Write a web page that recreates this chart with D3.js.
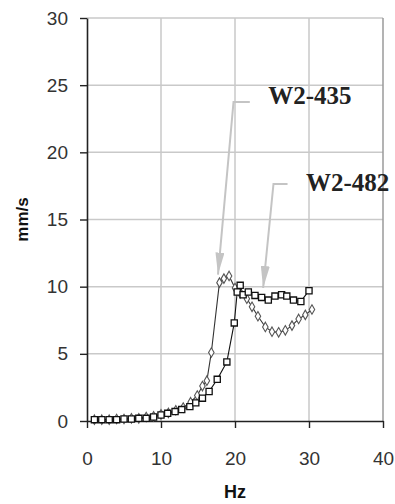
<!DOCTYPE html>
<html>
<head>
<meta charset="utf-8">
<script src="https://cdn.jsdelivr.net/npm/d3@7"></script>
<style>
  html, body { margin: 0; padding: 0; background: #fff; }
  svg { display: block; }
</style>
</head>
<body>
<div id="chart"></div>
<script>
// Vibration velocity spectra of two measurement points (mm/s vs Hz)
const xTicks = [0, 10, 20, 30, 40];
const yTicks = [0, 5, 10, 15, 20, 25, 30];

// W2-435 (diamond markers)
const hz435 = [1, 2, 3, 4, 5, 6, 7, 8, 9, 10, 11, 12, 13, 14, 14.9, 15.6, 16.2, 16.8, 17.9, 18.5, 19.2, 20.0, 20.7, 21.6, 22.3, 23.1, 24.1, 25.0, 25.9, 26.8, 27.7, 28.6, 29.5, 30.4];
const v435  = [0.1, 0.1, 0.1, 0.15, 0.15, 0.2, 0.2, 0.3, 0.35, 0.5, 0.6, 0.8, 1.0, 1.4, 1.9, 2.6, 3.0, 5.1, 10.3, 10.6, 10.8, 9.9, 9.5, 9.1, 8.5, 7.8, 7.0, 6.65, 6.6, 6.75, 7.1, 7.6, 7.9, 8.3];

// W2-482 (square markers)
const hz482 = [1, 2, 3, 4, 5, 6, 7, 8, 9, 10, 10.9, 11.9, 12.8, 13.9, 14.7, 15.6, 16.5, 17.6, 18.9, 19.9, 20.3, 20.7, 21.1, 21.8, 22.7, 23.6, 24.5, 25.4, 26.3, 27.0, 27.9, 28.9, 30.0];
const v482  = [0.1, 0.1, 0.1, 0.1, 0.15, 0.15, 0.2, 0.2, 0.3, 0.45, 0.57, 0.7, 0.85, 1.07, 1.35, 1.7, 2.2, 3.1, 4.4, 7.3, 9.6, 10.1, 9.4, 9.6, 9.35, 9.2, 9.0, 9.3, 9.4, 9.3, 9.0, 8.9, 9.7];

// Callout labels and their leader arrows (data units)
const calloutNames = ["W2-435", "W2-482"];
const calloutText  = [[24.5, 23.6], [29.6, 17.1]];
const calloutPath  = [
  [[22.0, 23.75], [19.8, 23.75], [17.7, 10.9]],
  [[27.1, 17.65], [25.2, 17.65], [23.8, 9.9]]
];

const W = 395, H = 504;
const margin = { top: 18, right: 12, bottom: 83, left: 87 };
const iw = W - margin.left - margin.right;
const ih = H - margin.top - margin.bottom;

const svg = d3.select("#chart").append("svg")
  .attr("width", W).attr("height", H);

const defs = svg.append("defs");
defs.append("marker")
  .attr("id", "arrowhead")
  .attr("viewBox", "0 0 20 10")
  .attr("preserveAspectRatio", "none")
  .attr("refX", 20).attr("refY", 5)
  .attr("markerWidth", 22).attr("markerHeight", 9)
  .attr("markerUnits", "userSpaceOnUse")
  .attr("orient", "auto")
  .append("path")
  .attr("d", "M0,0 L20,5 L0,10 Z")
  .attr("fill", "#c4c4c4");

const g = svg.append("g").attr("transform", `translate(${margin.left},${margin.top})`);

const x = d3.scaleLinear().domain([0, 40]).range([0, iw]);
const y = d3.scaleLinear().domain([0, 30]).range([ih, 0]);

// grid
g.append("g").selectAll("line.h").data(yTicks.filter(d => d > 0)).join("line")
  .attr("x1", 0).attr("x2", iw)
  .attr("y1", d => y(d)).attr("y2", d => y(d))
  .attr("stroke", "#c9c9c9").attr("stroke-width", 1.5);
g.append("g").selectAll("line.v").data(xTicks.filter(d => d > 0)).join("line")
  .attr("x1", d => x(d)).attr("x2", d => x(d))
  .attr("y1", 0).attr("y2", ih)
  .attr("stroke", d => d === 40 ? "#9a9a9a" : "#c9c9c9").attr("stroke-width", 1.5);

// axes
const xAxis = g.append("g").attr("transform", `translate(0,${ih})`)
  .call(d3.axisBottom(x).tickValues(xTicks).tickSize(7).tickPadding(24).tickSizeOuter(0));
const yAxis = g.append("g")
  .call(d3.axisLeft(y).tickValues(yTicks).tickSize(7).tickPadding(12).tickSizeOuter(0));
[xAxis, yAxis].forEach(a => {
  a.select(".domain").attr("stroke", "#222").attr("stroke-width", 1.6);
  a.selectAll(".tick line").attr("stroke", "#222").attr("stroke-width", 1.4);
  a.selectAll(".tick text")
    .attr("font-family", "'Liberation Sans', Arial, sans-serif")
    .attr("font-size", 19).attr("fill", "#333");
});

// axis titles
svg.append("text")
  .attr("x", margin.left + x(20)).attr("y", 498)
  .attr("text-anchor", "middle")
  .attr("font-family", "'Liberation Sans', Arial, sans-serif")
  .attr("font-weight", "bold").attr("font-size", 18).attr("fill", "#111")
  .text("Hz");
svg.append("text")
  .attr("transform", `translate(28,${margin.top + y(15)}) rotate(-90)`)
  .attr("text-anchor", "middle")
  .attr("font-family", "'Liberation Sans', Arial, sans-serif")
  .attr("font-weight", "bold").attr("font-size", 17).attr("fill", "#111")
  .text("mm/s");

// series
const s435 = hz435.map((h, i) => [h, v435[i]]);
const s482 = hz482.map((h, i) => [h, v482[i]]);
const line = d3.line().x(d => x(d[0])).y(d => y(d[1]));

g.append("path").datum(s435).attr("d", line)
  .attr("fill", "none").attr("stroke", "#333").attr("stroke-width", 1.1);
g.append("path").datum(s482).attr("d", line)
  .attr("fill", "none").attr("stroke", "#111").attr("stroke-width", 1.1);

g.append("g").selectAll("path").data(s435).join("path")
  .attr("transform", d => `translate(${x(d[0])},${y(d[1])})`)
  .attr("d", d3.symbol(d3.symbolDiamond, 26))
  .attr("fill", "#fff").attr("stroke", "#555").attr("stroke-width", 1.1);
g.append("g").selectAll("path").data(s482).join("path")
  .attr("transform", d => `translate(${x(d[0])},${y(d[1])})`)
  .attr("d", d3.symbol(d3.symbolSquare, 38))
  .attr("fill", "#fff").attr("stroke", "#111").attr("stroke-width", 1.3);

// callouts
calloutPath.forEach(pts => {
  g.append("path")
    .attr("d", d3.line().x(d => x(d[0])).y(d => y(d[1]))(pts))
    .attr("fill", "none").attr("stroke", "#c4c4c4").attr("stroke-width", 2)
    .attr("marker-end", "url(#arrowhead)");
});
calloutNames.forEach((name, i) => {
  g.append("text")
    .attr("x", x(calloutText[i][0])).attr("y", y(calloutText[i][1]))
    .attr("font-family", "'Liberation Serif', 'Times New Roman', serif")
    .attr("font-weight", "bold").attr("font-size", 25).attr("fill", "#222")
    .text(name);
});
</script>
</body>
</html>
